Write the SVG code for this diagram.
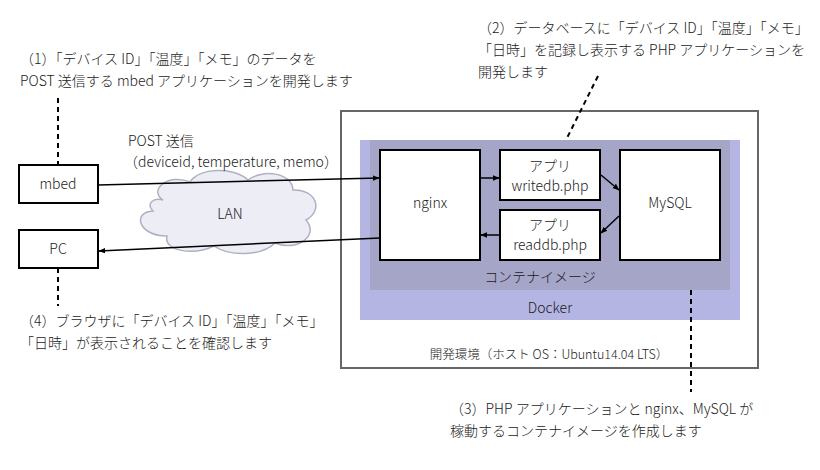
<svg xmlns="http://www.w3.org/2000/svg" width="820" height="470" viewBox="0 0 820 470">
<defs>
<style>
text{font-family:"Noto Sans CJK JP","Noto Sans",sans-serif;font-size:14px;font-weight:300;fill:#1a1a1a}
.c{text-anchor:middle}
.box{fill:#fff;stroke:#000;stroke-width:2}
.conn{stroke:#000;stroke-width:1.5;fill:none}
.dash{stroke:#000;stroke-width:2;stroke-dasharray:5,4;fill:none}
</style>
<marker id="ah" viewBox="0 0 10 10" refX="9" refY="5" markerWidth="7" markerHeight="7" orient="auto" markerUnits="userSpaceOnUse">
<path d="M0,1 L10,5 L0,9 z" fill="#000"/>
</marker>
</defs>
<rect width="820" height="470" fill="#fff"/>
<g id="env">
<rect x="341" y="111" width="417" height="257" fill="#fff" stroke="#666" stroke-width="2"/>
<text class="c" x="549" y="359" style="font-size:12.5px">開発環境（ホスト OS：Ubuntu14.04 LTS）</text>
</g>
<g id="docker">
<rect x="360" y="140" width="380" height="180" fill="#b5b5e3"/>
<text class="c" x="550" y="313">Docker</text>
</g>
<g id="container">
<rect x="370" y="140" width="360" height="150" fill="#a5a5c8"/>
<text class="c" x="540" y="282">コンテナイメージ</text>
</g>
<g id="cloud">
<path d="M163,200 C148,190 168,173 190,182 C200,167 235,167 248,180 C262,169 292,172 293,190 C316,189 324,210 306,220 C320,236 296,252 275,243 C262,256 230,257 214,246 C193,256 163,251 167,236 C138,236 132,212 153,211 C146,204 153,197 163,200 z" fill="#ededf5" stroke="#b0b0c4" stroke-width="1.5"/>
<text class="c" x="230" y="219">LAN</text>
</g>
<g id="mbed">
<rect class="box" x="19" y="165" width="79" height="38"/>
<text class="c" x="58" y="189">mbed</text>
</g>
<g id="pc">
<rect class="box" x="19" y="230" width="79" height="38"/>
<text class="c" x="58" y="254">PC</text>
</g>
<g id="nginx">
<rect class="box" x="380" y="150" width="100" height="110"/>
<text class="c" x="430" y="208">nginx</text>
</g>
<g id="writedb">
<rect class="box" x="500" y="150" width="100" height="50"/>
<text class="c" x="550" y="171">アプリ</text>
<text class="c" x="550" y="191">writedb.php</text>
</g>
<g id="readdb">
<rect class="box" x="500" y="210" width="100" height="50"/>
<text class="c" x="550" y="230">アプリ</text>
<text class="c" x="550" y="250">readdb.php</text>
</g>
<g id="mysql">
<rect class="box" x="620" y="150" width="100" height="110"/>
<text class="c" x="670" y="208">MySQL</text>
</g>
<g id="connectors">
<line class="conn" x1="98" y1="185" x2="379" y2="178" marker-end="url(#ah)"/>
<line class="conn" x1="380" y1="238" x2="99" y2="251" marker-end="url(#ah)"/>
<line class="conn" x1="481" y1="178" x2="499" y2="178" marker-end="url(#ah)"/>
<line class="conn" x1="500" y1="235" x2="481" y2="235" marker-end="url(#ah)"/>
<line class="conn" x1="601" y1="175" x2="619" y2="190" marker-end="url(#ah)"/>
<line class="conn" x1="619" y1="216" x2="601" y2="233" marker-end="url(#ah)"/>
<line class="dash" x1="58" y1="98" x2="58" y2="165"/>
<line class="dash" x1="58" y1="268" x2="58" y2="306"/>
<line class="dash" x1="598" y1="76" x2="566" y2="140"/>
<line class="dash" x1="691" y1="290" x2="691" y2="392"/>
</g>
<g id="labels">
<text x="20" y="64">（1）「デバイス ID」「温度」「メモ」のデータを</text>
<text x="20" y="86">POST 送信する mbed アプリケーションを開発します</text>
<text x="478" y="33">（2）データベースに「デバイス ID」「温度」「メモ」</text>
<text x="478" y="55">「日時」を記録し表示する PHP アプリケーションを</text>
<text x="478" y="77">開発します</text>
<text x="128" y="146">POST 送信</text>
<text x="124" y="167">（deviceid, temperature, memo）</text>
<text x="20" y="326">（4）ブラウザに「デバイス ID」「温度」「メモ」</text>
<text x="20" y="348">「日時」が表示されることを確認します</text>
<text x="450" y="414">（3）PHP アプリケーションと nginx、MySQL が</text>
<text x="450" y="436">稼動するコンテナイメージを作成します</text>
</g>
</svg>
